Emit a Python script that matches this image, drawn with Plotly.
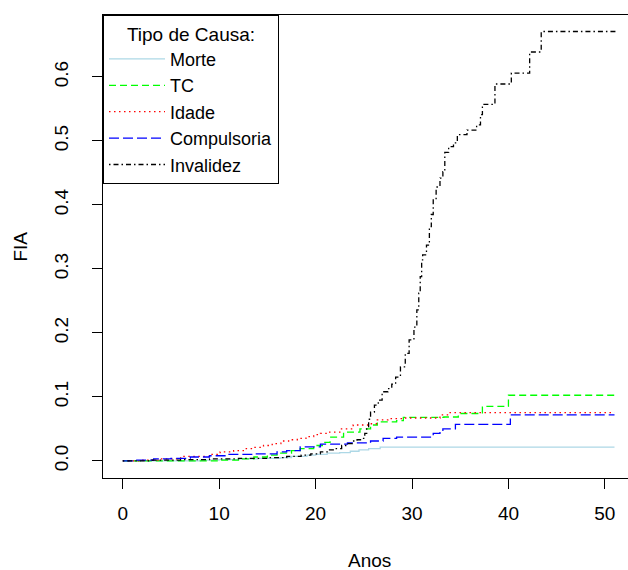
import plotly.graph_objects as go

# ---- data (step functions: value after the jump at each time) ----
names = ["Morte", "TC", "Idade", "Compulsoria", "Invalidez"]
colors = ["#ADD8E6", "#00FF00", "#FF0000", "#0000FF", "#000000"]
dashes = ["solid", "7px,4px", "1.5px,3.5px", "10px,4px", "1.5px,3px,5px,3px"]

morte_t = [0, 8, 10, 12, 14, 16.4, 17.5, 19.1, 20, 21.2, 22.5, 23.6, 24.5, 25.5, 26.7, 51.0]
morte_v = [0, 0.001, 0.002, 0.003, 0.004, 0.005, 0.007, 0.009, 0.010, 0.012, 0.013, 0.015, 0.017, 0.019, 0.0215, 0.0215]

tc_t = [0, 10, 12, 13.6, 15, 16, 17.5, 18.4, 19.8, 20.7, 21.5, 22.9, 24.6, 25.7, 26.4, 28.4, 29.1, 33.3, 34.8, 37.3, 40.0, 51.0]
tc_v = [0, 0.001, 0.003, 0.006, 0.009, 0.012, 0.016, 0.019, 0.024, 0.029, 0.037, 0.045, 0.050, 0.056, 0.061, 0.063, 0.068, 0.0685, 0.074, 0.085, 0.1025, 0.1025]

idade_t = [0, 2, 3.9, 6.0, 9.1, 10.1, 11.5, 12.6, 13.5, 14.6, 15.5, 16.4, 17.2, 18.1, 19.0, 19.8, 20.5, 21.2, 22.6, 23.9, 25.5, 26.4, 27.5, 29.1, 32.9, 33.8, 51.0]
idade_v = [0, 0.001, 0.003, 0.007, 0.010, 0.014, 0.016, 0.019, 0.021, 0.024, 0.027, 0.031, 0.033, 0.035, 0.038, 0.041, 0.043, 0.045, 0.050, 0.056, 0.058, 0.064, 0.066, 0.067, 0.072, 0.0755, 0.0755]

comp_t = [0, 1.2, 3.2, 5, 7.0, 9, 10.8, 13.6, 16.0, 17.0, 18.4, 20.5, 23.3, 25.7, 27.0, 28.4, 32.2, 32.9, 33.2, 34.5, 40.2, 51.0]
comp_v = [0, 0.001, 0.003, 0.004, 0.006, 0.008, 0.010, 0.011, 0.014, 0.016, 0.022, 0.026, 0.028, 0.031, 0.035, 0.037, 0.043, 0.045, 0.050, 0.057, 0.072, 0.072]

inv_t = [0, 3, 6, 9, 12, 15, 17, 18.5, 19.5, 20.5, 21.3, 22, 22.7, 23.3, 23.8, 24.3, 24.8, 25.1, 25.3, 25.5, 25.7,
         26.1, 26.5, 26.9, 27.5, 27.9, 28.3, 28.8, 29.3, 29.7, 30.2, 30.5, 30.7, 30.85, 31.0, 31.1, 31.5, 31.8, 32.0,
         32.2, 32.5, 32.9, 33.2, 33.4, 33.8, 34.3, 34.7, 35.7, 36.7, 37.1, 37.3, 38.6, 40.3, 42.2, 43.4, 51.3]
inv_v = [0, 0.001, 0.002, 0.003, 0.004, 0.005, 0.007, 0.009, 0.011, 0.014, 0.017, 0.019, 0.024, 0.027, 0.031, 0.033, 0.035, 0.043, 0.053, 0.065, 0.076,
         0.087, 0.095, 0.108, 0.113, 0.120, 0.131, 0.147, 0.168, 0.189, 0.209, 0.236, 0.262, 0.288, 0.314, 0.322, 0.337, 0.366, 0.385,
         0.410, 0.428, 0.442, 0.452, 0.482, 0.491, 0.497, 0.510, 0.517, 0.525, 0.541, 0.557, 0.589, 0.606, 0.639, 0.671, 0.671]

series_t = [morte_t, tc_t, idade_t, comp_t, inv_t]
series_v = [morte_v, tc_v, idade_v, comp_v, inv_v]

x_ticks = [0, 10, 20, 30, 40, 50]
y_ticks = [0.0, 0.1, 0.2, 0.3, 0.4, 0.5, 0.6]
y_ticklabels = ["0.0", "0.1", "0.2", "0.3", "0.4", "0.5", "0.6"]

FONT = "Liberation Sans, Arial, sans-serif"
FS = 19

fig = go.Figure()
for n, c, d, t, v in zip(names, colors, dashes, series_t, series_v):
    fig.add_trace(go.Scatter(x=t, y=v, mode="lines", name=n,
                             line=dict(color=c, dash=d, width=1.3, shape="hv")))

fig.update_layout(
    width=628, height=570,
    margin=dict(l=103, r=0, t=15, b=92),
    paper_bgcolor="white", plot_bgcolor="white",
    font=dict(family=FONT, size=FS, color="black"),
    showlegend=True,
    legend=dict(
        x=0, y=1, xanchor="left", yanchor="top",
        bordercolor="black", borderwidth=1, bgcolor="white",
        title=dict(text="Tipo de Causa:", side="top center", font=dict(size=FS)),
        font=dict(size=18), itemwidth=56, tracegroupgap=0,
    ),
    xaxis=dict(range=[-2.05, 52.4], tickvals=x_ticks, ticks="outside", ticklen=10,
               tickcolor="black", showgrid=False, zeroline=False, showline=True,
               linecolor="black", linewidth=1, mirror=True, ticklabelstandoff=8),
    yaxis=dict(range=[-0.0268, 0.6968], tickvals=y_ticks, ticktext=y_ticklabels,
               ticks="outside", ticklen=10, tickcolor="black", tickangle=-90,
               showgrid=False, zeroline=False, showline=True, linecolor="black",
               linewidth=1, mirror=False, ticklabelstandoff=16),
    annotations=[
        dict(text="Anos", xref="paper", yref="paper", x=0.507, y=-0.179,
             xanchor="center", yanchor="middle", showarrow=False, font=dict(size=FS)),
        dict(text="FIA", xref="paper", yref="paper", x=-0.158, y=0.5, textangle=-90,
             xanchor="center", yanchor="middle", showarrow=False, font=dict(size=FS)),
    ],
)

fig.write_html("out.html")
